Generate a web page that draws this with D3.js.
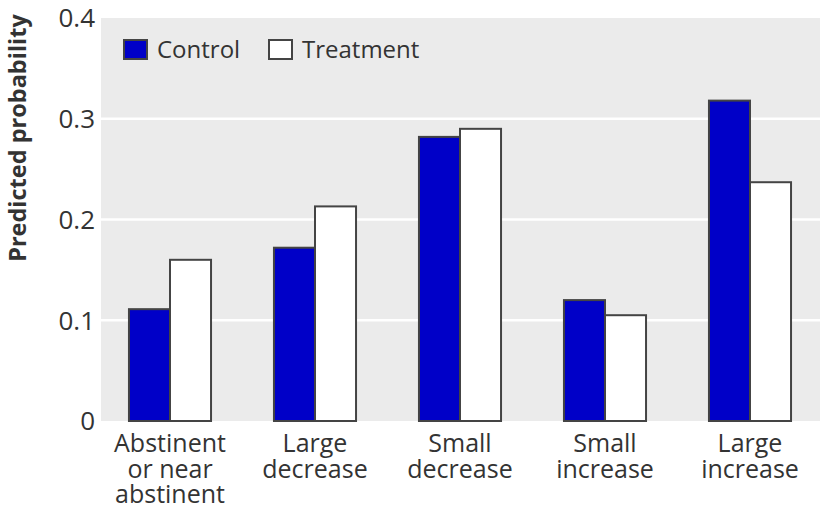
<!DOCTYPE html>
<html><head><meta charset="utf-8">
<script src="https://cdn.jsdelivr.net/npm/d3@7"></script>
<style>body{margin:0;background:#fff;} text{font-family:"Open Sans",sans-serif;fill:#333;}</style>
</head><body><svg id="c" width="820" height="512"></svg>
<script>
const categories = [["Abstinent","or near","abstinent"],["Large","decrease"],["Small","decrease"],["Small","increase"],["Large","increase"]];
const seriesNames = ["Control","Treatment"];
const control = [0.111, 0.172, 0.282, 0.120, 0.318];
const treatment = [0.160, 0.213, 0.290, 0.105, 0.237];
const yTicks = [0, 0.1, 0.2, 0.3, 0.4];
const yTickLabels = ["0","0.1","0.2","0.3","0.4"];
const colors = ["#0000c8","#ffffff"];

const svg = d3.select("#c");
const plot = {left:101, right:820, top:18, bottom:421};
const idx = d3.range(categories.length);
const x = d3.scaleBand().domain(idx).range([97.5, 822.5]).paddingInner(0.434).paddingOuter(0.217);
const x1 = d3.scaleBand().domain([0,1]).range([0, x.bandwidth()]);
const y = d3.scaleLinear().domain([0,0.4]).range([plot.bottom, plot.top]);

svg.append("rect").attr("x",plot.left).attr("y",plot.top).attr("width",plot.right-plot.left).attr("height",plot.bottom-plot.top).attr("fill","#ebebeb");
svg.append("g").selectAll("line").data(yTicks.filter(d=>d>0&&d<0.4)).join("line")
  .attr("x1",plot.left).attr("x2",plot.right).attr("y1",d=>y(d)).attr("y2",d=>y(d))
  .attr("stroke","#fff").attr("stroke-width",2.5);

const yAxis = d3.axisLeft(y).tickValues(yTicks).tickFormat((d,i)=>yTickLabels[i]).tickSize(0).tickPadding(6);
const ga = svg.append("g").attr("transform",`translate(${plot.left},0)`).call(yAxis);
ga.select(".domain").remove();
ga.selectAll("text").style("font-family","'Open Sans',sans-serif").style("font-size","26px").attr("fill","#333").attr("dy","0.34em");

const series = [control, treatment];
series.forEach((vals, s) => {
  svg.append("g").selectAll("rect").data(vals).join("rect")
    .attr("x",(d,i)=>x(i)+x1(s)).attr("width",x1.bandwidth())
    .attr("y",d=>y(d)).attr("height",d=>y(0)-y(d))
    .attr("fill",colors[s]).attr("stroke","#444").attr("stroke-width",2);
});

// category labels
const gl = svg.append("g");
categories.forEach((lines,i)=>{
  lines.forEach((l,j)=>gl.append("text").attr("text-anchor","middle")
    .attr("x",x(i)+x.bandwidth()/2).attr("y",452 + j*25.7).style("font-size","25px").text(l));
});

// y label
svg.append("text").attr("transform","translate(26,138) rotate(-90)").attr("text-anchor","middle")
  .style("font-size","23.5px").style("font-weight","bold").attr("fill","#222").text("Predicted probability");

// legend
const leg = [{x:124},{x:269}];
seriesNames.forEach((n,i)=>{
  svg.append("rect").attr("x",leg[i].x).attr("y",40).attr("width",23).attr("height",19)
    .attr("fill",colors[i]).attr("stroke","#444").attr("stroke-width",2);
  svg.append("text").attr("x",leg[i].x+33).attr("y",58).style("font-size","24px").text(n);
});
</script></body></html>
